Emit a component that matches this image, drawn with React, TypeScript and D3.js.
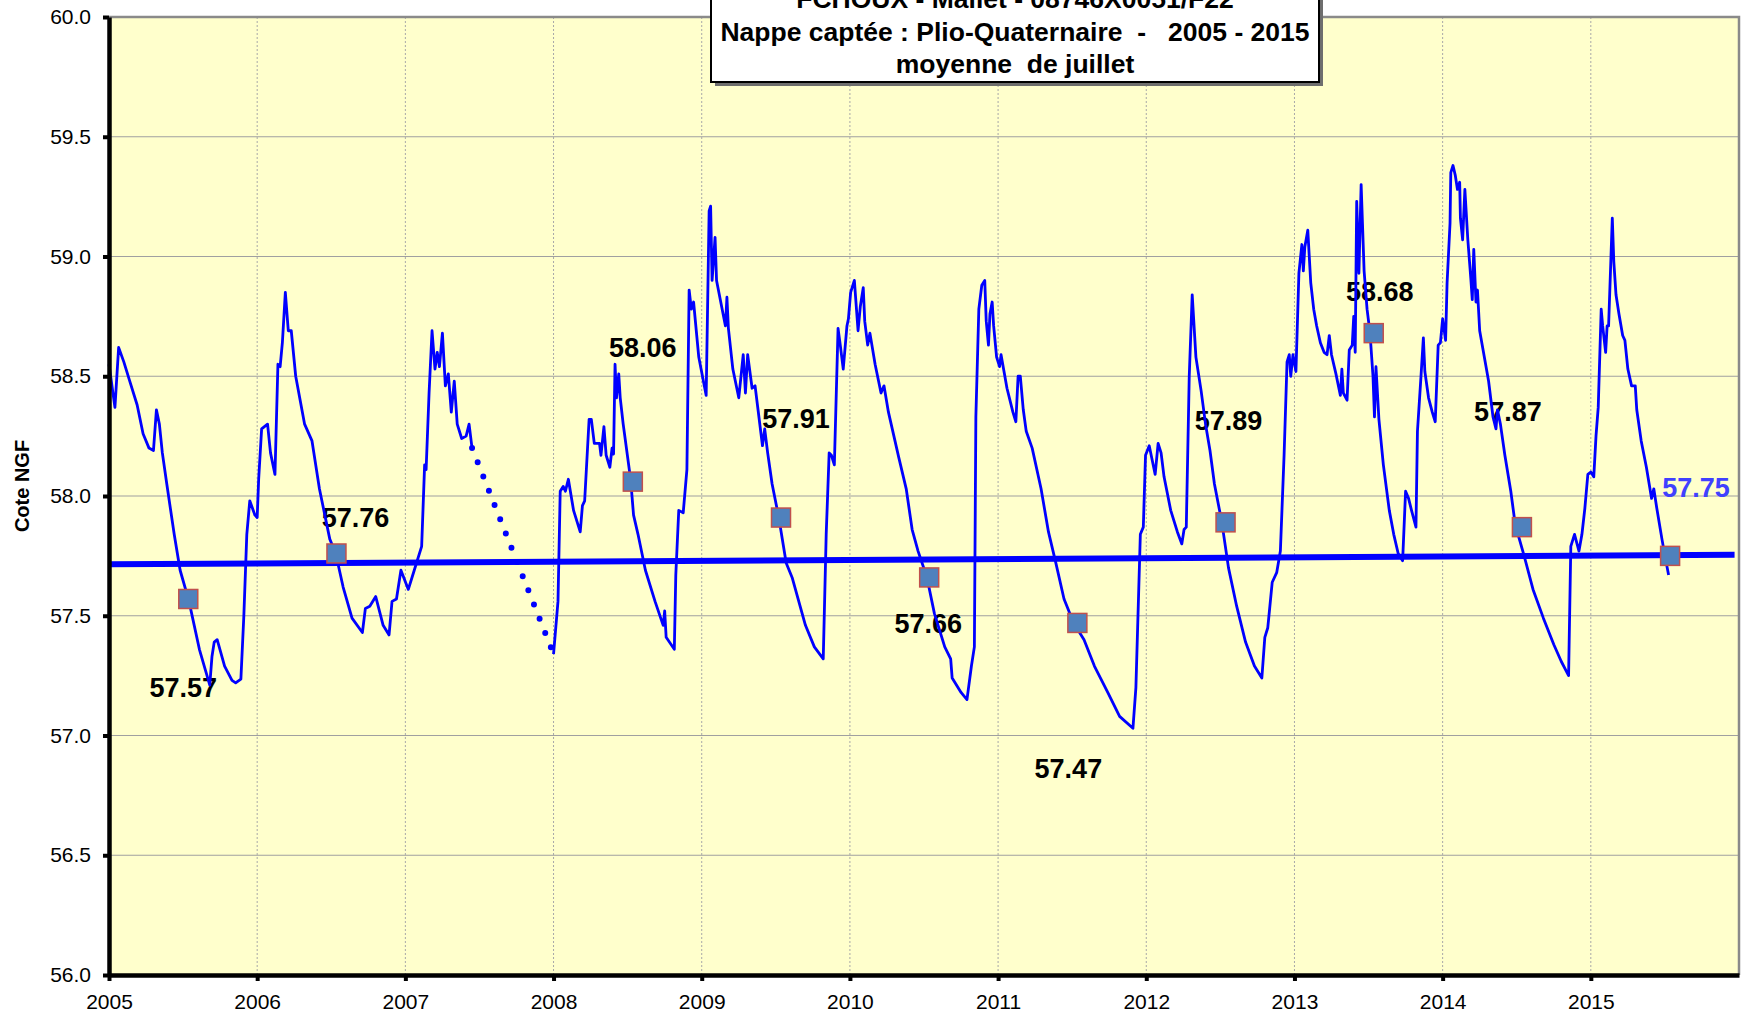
import React, { useEffect, useRef } from 'react';
import * as d3 from 'd3';

type Pt = [number, number];

// water level readings, [decimal year, cote NGF]
const level2005: Pt[] = [
  [2005.0, 58.55], [2005.04, 58.37], [2005.065, 58.62], [2005.1, 58.56], [2005.14, 58.48],
  [2005.19, 58.38], [2005.23, 58.26], [2005.27, 58.2], [2005.3, 58.19], [2005.32, 58.36],
  [2005.34, 58.3], [2005.36, 58.18], [2005.39, 58.05], [2005.44, 57.84], [2005.48, 57.69],
  [2005.54, 57.56], [2005.61, 57.36], [2005.68, 57.21], [2005.695, 57.33], [2005.71, 57.39],
  [2005.73, 57.4], [2005.78, 57.29], [2005.83, 57.23], [2005.855, 57.22], [2005.89, 57.235],
  [2005.91, 57.5], [2005.93, 57.84], [2005.95, 57.98], [2005.985, 57.92],
];
const level2006: Pt[] = [
  [2006.0, 57.91], [2006.01, 58.07], [2006.03, 58.28], [2006.07, 58.3], [2006.09, 58.18],
  [2006.12, 58.09], [2006.14, 58.55], [2006.155, 58.54], [2006.17, 58.64], [2006.19, 58.85],
  [2006.21, 58.69], [2006.23, 58.69], [2006.26, 58.5], [2006.32, 58.3], [2006.37, 58.23],
  [2006.42, 58.03], [2006.49, 57.82], [2006.53, 57.76], [2006.58, 57.62], [2006.64, 57.49],
  [2006.71, 57.43], [2006.73, 57.53], [2006.76, 57.54], [2006.8, 57.58], [2006.85, 57.46],
  [2006.89, 57.42], [2006.91, 57.56], [2006.94, 57.57], [2006.97, 57.69],
];
const level2007: Pt[] = [
  [2007.02, 57.61], [2007.06, 57.69], [2007.11, 57.79], [2007.13, 58.13], [2007.14, 58.11],
  [2007.16, 58.43], [2007.18, 58.69], [2007.2, 58.53], [2007.215, 58.6], [2007.23, 58.54],
  [2007.25, 58.68], [2007.27, 58.46], [2007.29, 58.51], [2007.31, 58.35], [2007.33, 58.48],
  [2007.35, 58.3], [2007.38, 58.24], [2007.41, 58.25], [2007.43, 58.3], [2007.45, 58.2],
];
const level2008: Pt[] = [
  [2008.0, 57.34], [2008.03, 57.56], [2008.045, 58.02], [2008.065, 58.04], [2008.08, 58.02],
  [2008.1, 58.07], [2008.135, 57.94], [2008.18, 57.85], [2008.195, 57.96], [2008.21, 57.98],
  [2008.24, 58.32], [2008.255, 58.32], [2008.275, 58.22], [2008.31, 58.22], [2008.32, 58.17],
  [2008.34, 58.29], [2008.355, 58.17], [2008.38, 58.12], [2008.395, 58.2], [2008.405, 58.175],
  [2008.415, 58.55], [2008.425, 58.41], [2008.44, 58.51], [2008.45, 58.41], [2008.47, 58.3],
  [2008.52, 58.07], [2008.54, 57.92], [2008.57, 57.84], [2008.62, 57.69], [2008.685, 57.56],
  [2008.74, 57.46], [2008.75, 57.52], [2008.76, 57.41], [2008.815, 57.36], [2008.825, 57.67],
  [2008.845, 57.94], [2008.875, 57.93], [2008.9, 58.11], [2008.915, 58.86], [2008.93, 58.78],
  [2008.945, 58.81], [2008.98, 58.58],
];
const level2009: Pt[] = [
  [2009.03, 58.42], [2009.05, 59.19], [2009.06, 59.21], [2009.07, 58.9], [2009.09, 59.08],
  [2009.1, 58.9], [2009.16, 58.71], [2009.17, 58.83], [2009.18, 58.7], [2009.21, 58.53],
  [2009.25, 58.41], [2009.28, 58.59], [2009.295, 58.43], [2009.31, 58.59], [2009.34, 58.45],
  [2009.36, 58.46], [2009.38, 58.36], [2009.41, 58.21], [2009.425, 58.28], [2009.445, 58.18],
  [2009.475, 58.05], [2009.52, 57.91], [2009.57, 57.72], [2009.61, 57.66], [2009.7, 57.46],
  [2009.76, 57.37], [2009.82, 57.32], [2009.84, 57.84], [2009.86, 58.18], [2009.875, 58.17],
  [2009.895, 58.13], [2009.92, 58.7], [2009.935, 58.63], [2009.955, 58.53], [2009.98, 58.71],
  [2009.99, 58.74],
];
const level2010: Pt[] = [
  [2010.005, 58.85], [2010.03, 58.9], [2010.055, 58.69], [2010.07, 58.79], [2010.09, 58.87],
  [2010.1, 58.73], [2010.12, 58.63], [2010.135, 58.68], [2010.17, 58.55], [2010.21, 58.43],
  [2010.23, 58.46], [2010.26, 58.35], [2010.33, 58.16], [2010.38, 58.03], [2010.42, 57.86],
  [2010.46, 57.77], [2010.52, 57.66], [2010.57, 57.51], [2010.64, 57.37], [2010.68, 57.32],
  [2010.69, 57.24], [2010.75, 57.18], [2010.79, 57.15], [2010.82, 57.29], [2010.84, 57.37],
  [2010.85, 58.33], [2010.87, 58.78], [2010.89, 58.88], [2010.91, 58.9], [2010.92, 58.73],
  [2010.935, 58.63], [2010.945, 58.76], [2010.96, 58.81], [2010.97, 58.71], [2010.99, 58.58],
];
const level2011: Pt[] = [
  [2011.01, 58.54], [2011.02, 58.59], [2011.04, 58.52], [2011.06, 58.45], [2011.1, 58.35],
  [2011.12, 58.31], [2011.135, 58.5], [2011.15, 58.5], [2011.17, 58.36], [2011.19, 58.27],
  [2011.23, 58.2], [2011.29, 58.03], [2011.34, 57.85], [2011.39, 57.72], [2011.445, 57.57],
  [2011.51, 57.47], [2011.58, 57.4], [2011.65, 57.29], [2011.74, 57.18], [2011.82, 57.08],
  [2011.91, 57.03], [2011.93, 57.2], [2011.96, 57.84], [2011.98, 57.87], [2011.995, 58.17],
];
const level2012: Pt[] = [
  [2012.02, 58.21], [2012.06, 58.09], [2012.08, 58.22], [2012.1, 58.18], [2012.12, 58.08],
  [2012.165, 57.94], [2012.21, 57.85], [2012.24, 57.8], [2012.255, 57.86], [2012.27, 57.87],
  [2012.29, 58.5], [2012.31, 58.84], [2012.335, 58.58], [2012.37, 58.44], [2012.4, 58.3],
  [2012.43, 58.19], [2012.46, 58.05], [2012.51, 57.89], [2012.555, 57.7], [2012.61, 57.54],
  [2012.67, 57.39], [2012.73, 57.29], [2012.78, 57.24], [2012.8, 57.41], [2012.82, 57.45],
  [2012.85, 57.64], [2012.88, 57.68], [2012.905, 57.77], [2012.93, 58.17], [2012.95, 58.56],
  [2012.965, 58.59], [2012.975, 58.5], [2012.99, 58.59],
];
const level2013: Pt[] = [
  [2013.01, 58.52], [2013.03, 58.93], [2013.04, 58.99], [2013.05, 59.05], [2013.06, 58.94],
  [2013.07, 59.04], [2013.09, 59.11], [2013.11, 58.89], [2013.13, 58.78], [2013.15, 58.71],
  [2013.175, 58.64], [2013.2, 58.6], [2013.22, 58.59], [2013.235, 58.67], [2013.25, 58.59],
  [2013.28, 58.51], [2013.31, 58.42], [2013.32, 58.53], [2013.33, 58.43], [2013.355, 58.4],
  [2013.37, 58.61], [2013.39, 58.63], [2013.4, 58.75], [2013.41, 58.6], [2013.42, 59.23],
  [2013.435, 58.93], [2013.45, 59.3], [2013.47, 58.94], [2013.49, 58.78], [2013.51, 58.68],
  [2013.53, 58.5], [2013.54, 58.33], [2013.55, 58.54], [2013.57, 58.32], [2013.6, 58.13],
  [2013.64, 57.94], [2013.67, 57.84], [2013.7, 57.76], [2013.73, 57.73], [2013.75, 58.02],
  [2013.77, 57.99], [2013.79, 57.94], [2013.82, 57.87], [2013.83, 58.27], [2013.855, 58.51],
  [2013.87, 58.66], [2013.88, 58.52], [2013.905, 58.41], [2013.93, 58.35], [2013.95, 58.31],
  [2013.97, 58.63], [2013.985, 58.64],
];
const level2014: Pt[] = [
  [2014.0, 58.74], [2014.02, 58.65], [2014.03, 58.89], [2014.05, 59.14], [2014.055, 59.35],
  [2014.07, 59.38], [2014.085, 59.34], [2014.1, 59.28], [2014.115, 59.31], [2014.12, 59.16],
  [2014.135, 59.07], [2014.15, 59.28], [2014.17, 59.07], [2014.19, 58.91], [2014.2, 58.82],
  [2014.21, 59.03], [2014.225, 58.81], [2014.235, 58.86], [2014.25, 58.69], [2014.29, 58.55],
  [2014.31, 58.48], [2014.34, 58.33], [2014.36, 58.28], [2014.37, 58.36], [2014.39, 58.3],
  [2014.42, 58.17], [2014.46, 58.02], [2014.49, 57.88], [2014.55, 57.75], [2014.61, 57.61],
  [2014.68, 57.49], [2014.75, 57.38], [2014.8, 57.31], [2014.85, 57.25], [2014.865, 57.79],
  [2014.89, 57.84], [2014.92, 57.77], [2014.94, 57.84], [2014.96, 57.95], [2014.98, 58.09],
];
const level2015: Pt[] = [
  [2015.0, 58.1], [2015.02, 58.08], [2015.035, 58.25], [2015.05, 58.37], [2015.07, 58.78],
  [2015.08, 58.71], [2015.1, 58.6], [2015.11, 58.71], [2015.12, 58.71], [2015.135, 58.98],
  [2015.145, 59.16], [2015.155, 58.98], [2015.17, 58.84], [2015.19, 58.76], [2015.215, 58.67],
  [2015.23, 58.65], [2015.25, 58.53], [2015.275, 58.46], [2015.3, 58.46], [2015.31, 58.36],
  [2015.34, 58.23], [2015.375, 58.12], [2015.41, 57.99], [2015.425, 58.03], [2015.445, 57.95],
  [2015.48, 57.82], [2015.5, 57.75], [2015.525, 57.67],
];

// missing data between mid 2007 and 2008, drawn dotted
const gapDotted: Pt[] = [[2007.45, 58.2], [2008.0, 57.34]];

// July means (15 July of each year)
const julyDates = [2005.535, 2006.535, 2008.535, 2009.535, 2010.535, 2011.535, 2012.535, 2013.535, 2014.535, 2015.535];
const julyMeans = [57.57, 57.76, 58.06, 57.91, 57.66, 57.47, 57.89, 58.68, 57.87, 57.75];
// label centre relative to its square, px
const labelOffsets: Pt[] = [[-5, 88], [19, -36], [10, -134], [15, -99], [-1, 46], [-9, 145], [3, -102], [6, -42], [-14, -116], [26, -69]];

// linear trend of the July means
const trendLine: Pt[] = [[2005, 57.715], [2015.97, 57.755]];

const yTicks = [56, 56.5, 57, 57.5, 58, 58.5, 59, 59.5, 60];
const xTicks = [2005, 2006, 2007, 2008, 2009, 2010, 2011, 2012, 2013, 2014, 2015];
const titleLines = [
  'FCHOUX - Mallet - 08746X0051/F22',
  'Nappe captée : Plio-Quaternaire  -   2005 - 2015',
  'moyenne  de juillet',
];

const FONT = '"Liberation Sans", Arial, Helvetica, sans-serif';

const App = () => {
  const svgRef = useRef<SVGSVGElement>(null);

  useEffect(() => {
    const svg = d3.select(svgRef.current);
    const width = 1752;
    const height = 1015;
    const plot = { left: 109, right: 1739, top: 17, bottom: 975 };

    const x = d3.scaleLinear().domain([2005, 2016]).range([plot.left, plot.right]);
    const y = d3.scaleLinear().domain([56, 60]).range([plot.bottom, plot.top]);

    svg.attr('width', width).attr('height', height);

    // plot background
    svg
      .append('rect')
      .attr('x', plot.left)
      .attr('y', plot.top)
      .attr('width', plot.right - plot.left)
      .attr('height', plot.bottom - plot.top)
      .attr('fill', '#ffffcc');

    // horizontal gridlines
    svg
      .append('g')
      .selectAll('line')
      .data(yTicks.slice(1))
      .enter()
      .append('line')
      .attr('x1', plot.left)
      .attr('x2', plot.right)
      .attr('y1', (d) => y(d))
      .attr('y2', (d) => y(d))
      .attr('stroke', '#a0a0a0')
      .attr('stroke-width', 1.2);

    // vertical gridlines (dotted)
    svg
      .append('g')
      .selectAll('line')
      .data(xTicks.slice(1))
      .enter()
      .append('line')
      .attr('x1', (d) => x(d))
      .attr('x2', (d) => x(d))
      .attr('y1', plot.top)
      .attr('y2', plot.bottom)
      .attr('stroke', '#a8a8a8')
      .attr('stroke-width', 1)
      .attr('stroke-dasharray', '2,2');

    // plot border top / right
    svg
      .append('path')
      .attr('d', `M${plot.left},${plot.top}H${plot.right}V${plot.bottom}`)
      .attr('fill', 'none')
      .attr('stroke', '#8a8a8a')
      .attr('stroke-width', 2.5);

    // data labels (under the line, as in the original)
    const labelG = svg.append('g');
    julyMeans.forEach((v, i) => {
      const [dx, dy] = labelOffsets[i];
      labelG
        .append('text')
        .attr('x', x(julyDates[i]) + dx)
        .attr('y', y(v) + dy + 9.7)
        .attr('text-anchor', 'middle')
        .attr('font-family', FONT)
        .attr('font-weight', 'bold')
        .attr('font-size', 27)
        .attr('fill', i === julyMeans.length - 1 ? '#4040ff' : '#000000')
        .text(v.toFixed(2));
    });

    const line = d3
      .line<Pt>()
      .x((d) => x(d[0]))
      .y((d) => y(d[1]));

    // trend
    svg
      .append('path')
      .datum(trendLine)
      .attr('d', line)
      .attr('fill', 'none')
      .attr('stroke', '#0000ff')
      .attr('stroke-width', 6);

    // measured level
    const seriesA = [...level2005, ...level2006, ...level2007];
    const seriesC = [...level2008, ...level2009, ...level2010, ...level2011, ...level2012, ...level2013, ...level2014, ...level2015];
    [seriesA, seriesC].forEach((s) => {
      svg
        .append('path')
        .datum(s)
        .attr('d', line)
        .attr('fill', 'none')
        .attr('stroke', '#0000ff')
        .attr('stroke-width', 2.8)
        .attr('stroke-linejoin', 'round');
    });

    svg
      .append('path')
      .datum(gapDotted)
      .attr('d', line)
      .attr('fill', 'none')
      .attr('stroke', '#0000ff')
      .attr('stroke-width', 6)
      .attr('stroke-linecap', 'round')
      .attr('stroke-dasharray', '0 15.3');

    // July mean markers
    svg
      .append('g')
      .selectAll('rect')
      .data(julyMeans)
      .enter()
      .append('rect')
      .attr('x', (d, i) => x(julyDates[i]) - 9.5)
      .attr('y', (d) => y(d) - 9.5)
      .attr('width', 19)
      .attr('height', 19)
      .attr('fill', '#4f81bd')
      .attr('stroke', '#c0504d')
      .attr('stroke-width', 1.5);

    // axes
    const yAxis = d3
      .axisLeft(y)
      .tickValues(yTicks)
      .tickFormat(d3.format('.1f'))
      .tickSize(6)
      .tickSizeOuter(0)
      .tickPadding(12);
    const gy = svg.append('g').attr('transform', `translate(${plot.left},0)`).call(yAxis);
    gy.select('.domain').attr('stroke', '#000').attr('stroke-width', 4.5);
    gy.selectAll('.tick line').attr('stroke', '#000').attr('stroke-width', 4);
    gy.selectAll('.tick text').attr('font-family', FONT).attr('font-size', 21).attr('fill', '#000');

    const xAxis = d3
      .axisBottom(x)
      .tickValues(xTicks)
      .tickFormat(d3.format('d'))
      .tickSize(6)
      .tickSizeOuter(0)
      .tickPadding(13);
    const gx = svg.append('g').attr('transform', `translate(0,${plot.bottom})`).call(xAxis);
    gx.select('.domain').attr('stroke', '#000').attr('stroke-width', 4.5);
    gx.selectAll('.tick line').attr('stroke', '#000').attr('stroke-width', 4);
    gx.selectAll('.tick text').attr('font-family', FONT).attr('font-size', 21).attr('fill', '#000');

    // y label
    svg
      .append('text')
      .attr('transform', 'translate(29,486) rotate(-90)')
      .attr('text-anchor', 'middle')
      .attr('font-family', FONT)
      .attr('font-weight', 'bold')
      .attr('font-size', 20)
      .text('Cote NGF');

    // title box
    const box = { x: 711, y: -40, w: 608, h: 122 };
    svg
      .append('rect')
      .attr('x', box.x + 4)
      .attr('y', box.y + 4)
      .attr('width', box.w)
      .attr('height', box.h)
      .attr('fill', '#6e6e6e');
    svg
      .append('rect')
      .attr('x', box.x)
      .attr('y', box.y)
      .attr('width', box.w)
      .attr('height', box.h)
      .attr('fill', '#ffffff')
      .attr('stroke', '#000')
      .attr('stroke-width', 2);
    svg
      .append('g')
      .selectAll('text')
      .data(titleLines)
      .enter()
      .append('text')
      .attr('x', box.x + box.w / 2)
      .attr('y', (d, i) => 8 + i * 32.5)
      .attr('text-anchor', 'middle')
      .attr('font-family', FONT)
      .attr('font-weight', 'bold')
      .attr('font-size', 26.5)
      .style('white-space', 'pre')
      .text((d) => d);

    return () => {
      svg.selectAll('*').remove();
    };
  }, []);

  return (
    <svg
      ref={svgRef}
      style={{ position: 'absolute', left: 0, top: 0, display: 'block', background: '#ffffff' }}
    ></svg>
  );
};

export default App;
